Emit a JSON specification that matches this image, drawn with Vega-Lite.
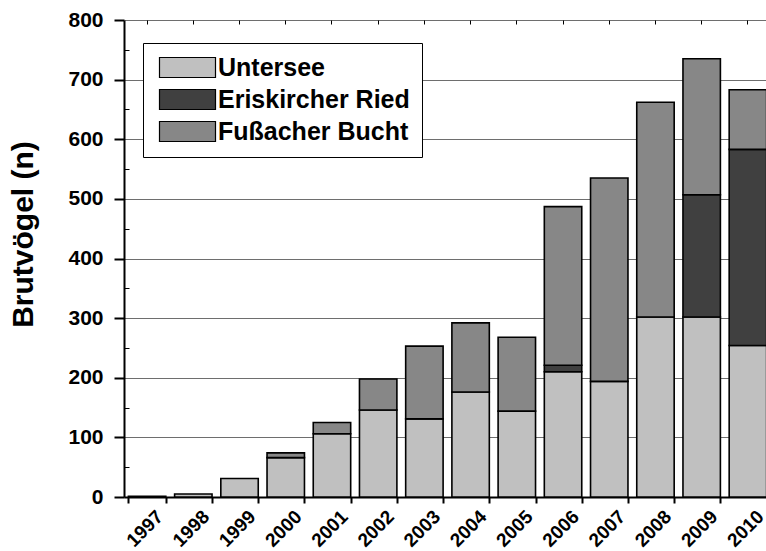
{
  "$schema": "https://vega.github.io/schema/vega-lite/v6.json",
  "autosize": "none",
  "width": 642,
  "height": 477,
  "padding": {"left": 124, "top": 20, "right": 0, "bottom": 54},
  "background": "white",
  "config": {
    "view": {"stroke": null},
    "font": "Liberation Sans"
  },
  "data": {
    "values": [
      {"year": "1997", "series": "Untersee", "k": 1, "n": 1},
      {"year": "1998", "series": "Untersee", "k": 1, "n": 5},
      {"year": "1999", "series": "Untersee", "k": 1, "n": 31},
      {"year": "2000", "series": "Untersee", "k": 1, "n": 66},
      {"year": "2000", "series": "Fußacher Bucht", "k": 3, "n": 8},
      {"year": "2001", "series": "Untersee", "k": 1, "n": 106},
      {"year": "2001", "series": "Fußacher Bucht", "k": 3, "n": 19},
      {"year": "2002", "series": "Untersee", "k": 1, "n": 146},
      {"year": "2002", "series": "Fußacher Bucht", "k": 3, "n": 52},
      {"year": "2003", "series": "Untersee", "k": 1, "n": 131},
      {"year": "2003", "series": "Fußacher Bucht", "k": 3, "n": 122},
      {"year": "2004", "series": "Untersee", "k": 1, "n": 176},
      {"year": "2004", "series": "Fußacher Bucht", "k": 3, "n": 116},
      {"year": "2005", "series": "Untersee", "k": 1, "n": 144},
      {"year": "2005", "series": "Fußacher Bucht", "k": 3, "n": 124},
      {"year": "2006", "series": "Untersee", "k": 1, "n": 210},
      {"year": "2006", "series": "Eriskircher Ried", "k": 2, "n": 11},
      {"year": "2006", "series": "Fußacher Bucht", "k": 3, "n": 266},
      {"year": "2007", "series": "Untersee", "k": 1, "n": 194},
      {"year": "2007", "series": "Fußacher Bucht", "k": 3, "n": 341},
      {"year": "2008", "series": "Untersee", "k": 1, "n": 302},
      {"year": "2008", "series": "Fußacher Bucht", "k": 3, "n": 360},
      {"year": "2009", "series": "Untersee", "k": 1, "n": 302},
      {"year": "2009", "series": "Eriskircher Ried", "k": 2, "n": 205},
      {"year": "2009", "series": "Fußacher Bucht", "k": 3, "n": 228},
      {"year": "2010", "series": "Untersee", "k": 1, "n": 254},
      {"year": "2010", "series": "Eriskircher Ried", "k": 2, "n": 329},
      {"year": "2010", "series": "Fußacher Bucht", "k": 3, "n": 100}
    ]
  },
  "resolve": {"axis": {"x": "independent", "y": "independent"}},
  "layer": [
    {
      "mark": {"type": "bar", "stroke": "black", "strokeWidth": 1.6, "opacity": 1},
      "encoding": {
        "x": {
          "field": "year", "type": "ordinal",
          "scale": {"range": [0, 647], "paddingInner": 0.19, "paddingOuter": 0.095},
          "axis": {
            "title": null, "tickBand": "extent", "labelAngle": -45,
            "labelAlign": "right", "labelBaseline": "top",
            "labelFont": "Liberation Sans", "labelFontWeight": "bold", "labelFontSize": 19,
            "labelColor": "black", "tickColor": "black", "tickSize": 6, "tickWidth": 2,
            "domainColor": "black", "domainWidth": 2, "labelPadding": 4, "labelOffset": 6,
            "labelOverlap": false, "labelBound": false, "labelFlush": false
          }
        },
        "y": {
          "field": "n", "type": "quantitative", "stack": "zero",
          "scale": {"domain": [0, 800], "nice": false},
          "axis": {
            "title": "Brutvögel (n)", "values": [0, 100, 200, 300, 400, 500, 600, 700, 800],
            "titleFont": "Liberation Sans", "titleFontWeight": "bold", "titleFontSize": 30,
            "titleColor": "black", "titleAngle": 270, "titleAlign": "center", "titleBaseline": "middle",
            "titleX": -101, "titleY": 214,
            "labelFont": "Liberation Sans", "labelFontWeight": "bold", "labelFontSize": 21,
            "labelColor": "black", "labelPadding": 11, "tickSize": 10, "tickColor": "black", "tickWidth": 2,
            "domainColor": "black", "domainWidth": 2,
            "grid": true, "gridColor": "#6e6e6e", "gridWidth": 1
          }
        },
        "color": {
          "field": "series", "type": "nominal",
          "scale": {
            "domain": ["Untersee", "Eriskircher Ried", "Fußacher Bucht"],
            "range": ["#c0c0c0", "#404040", "#878787"]
          },
          "legend": {
            "title": null, "orient": "none", "legendX": 19, "legendY": 23,
            "strokeColor": "black", "fillColor": "white", "padding": 12,
            "symbolType": "M-2.8,-1L2.8,-1L2.8,1L-2.8,1Z", "symbolSize": 400, "symbolOffset": 20,
            "symbolStrokeColor": "black", "symbolStrokeWidth": 1.2, "symbolOpacity": 1,
            "labelFont": "Liberation Sans", "labelFontWeight": "bold", "labelFontSize": 25,
            "labelColor": "black", "labelOffset": 18, "rowPadding": 6, "labelLimit": 400
          }
        },
        "order": {"field": "k", "type": "quantitative"}
      }
    },
    {
      "mark": {"type": "bar", "opacity": 0},
      "encoding": {
        "x": {
          "field": "year", "type": "ordinal",
          "axis": {
            "title": null, "tickBand": "center", "labels": false, "domain": false, "grid": false,
            "tickSize": -4, "tickColor": "black", "tickWidth": 1
          }
        },
        "y": {
          "field": "n", "type": "quantitative",
          "axis": {
            "title": null, "orient": "left", "values": [50, 150, 250, 350, 450, 550, 650, 750],
            "labels": false, "domain": false, "grid": false,
            "tickSize": -5, "tickColor": "black", "tickWidth": 1
          }
        }
      }
    }
  ]
}
